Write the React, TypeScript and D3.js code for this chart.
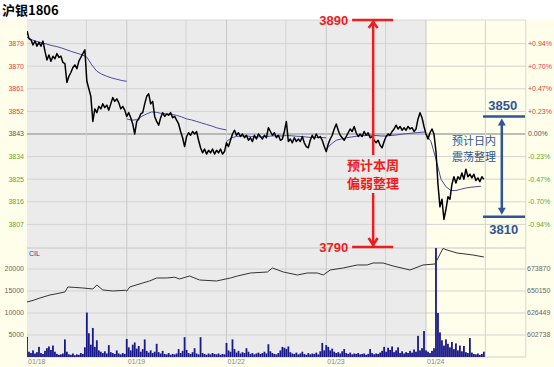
import React from "react";
import * as d3 from "d3";

const TITLE = "沪银1806";
const PREV_CLOSE = 3843;
const dayLabels = ["01/18", "01/19", "01/22", "01/23", "01/24"];
const priceTicks = [3879, 3870, 3861, 3852, 3843, 3834, 3825, 3816, 3807];
const pctLabels = ["+0.94%", "+0.70%", "+0.47%", "+0.23%", "0.00%", "-0.23%", "-0.47%", "-0.70%", "-0.94%"];
const volTicks = [5000, 10000, 15000, 20000];
const oiTicks = [602738, 626449, 650150, 673870];
const lowerLabel = "CIL";

// price, one value every 0.02 day
const price1 = [3884,3881,3880.5,3878.5,3880,3878,3879.5,3878,3880,3876,3872.5,3874.5,3872,3874,3873,3875,3873.5,3874,3871.5,3871,3863.5,3866,3867.5,3869.5,3870.5,3869,3872,3873.5,3875,3876.5,3864,3861,3858,3848,3853,3851.5,3854,3853,3855,3853.5,3854.5,3852.5,3855,3857.5,3856,3857,3855.5,3853,3854,3852.5];
const price2 = [3850,3851.5,3849.5,3847,3843,3848,3849,3851,3851.5,3855,3858,3859,3855,3856,3850,3848,3846.5,3849.5,3851.5,3850,3851,3850.5,3851.5,3849.5,3850,3848.5,3847,3844,3841.5,3838,3842,3843.5,3842.5,3844,3843,3844,3840.5,3837.5,3835.5,3837,3835,3836.5,3835.5,3837,3835,3836.5,3835.5,3837,3835,3836];
const price3 = [3839.5,3838,3840.5,3843,3844.5,3842.5,3843.5,3842,3843,3841.5,3842.5,3840.5,3841.5,3840,3842.5,3841,3843,3842,3841,3842.5,3841.5,3845.5,3844,3842.5,3843.5,3841.5,3842.5,3840.5,3841,3844,3848,3840,3841,3839.5,3841.5,3840,3841,3840,3842,3839.5,3838,3837.5,3840.5,3842.5,3841,3843,3841.5,3842,3840.5,3838];
const price4 = [3836,3839,3841,3842.5,3845,3847,3844.5,3842.5,3841.5,3840.5,3842,3843.5,3845,3844,3846,3843.5,3842,3843,3842,3844,3842.5,3843.5,3841.5,3842,3840.5,3839.5,3840.5,3838.5,3837.5,3840,3842,3843,3842.5,3844,3845,3846.5,3845,3846,3844.5,3845.5,3844.5,3846,3845,3845.5,3844,3845,3849,3851.5,3849.5,3846];
const price5 = [3843,3841,3843.5,3845,3843,3836,3823,3814,3817,3809,3813,3818,3817,3823,3826,3823.5,3826,3825,3827.5,3825,3829,3826,3827,3825.5,3827,3824.5,3825.5,3824,3826,3825];
const prices = [price1, price2, price3, price4, price5];

// average price, one value every 0.05 day
const avg1 = [3881.5,3880.5,3879.8,3879.3,3878.8,3878.2,3877.8,3877.2,3876.5,3875.8,3875.2,3874.6,3873.6,3870.5,3868,3866.8,3866,3865.3,3864.8,3864.3,3864];
const avg2 = [3849,3848.5,3848.7,3850,3851,3851.8,3851.6,3851.2,3851,3850.8,3850.4,3849.8,3849,3848.6,3848,3847.4,3846.8,3846.2,3845.5,3845,3844.6];
const avg3 = [3840,3841.5,3842,3842.2,3842.2,3842,3841.9,3841.9,3842,3842.2,3842.3,3842.2,3842.4,3842.3,3842.1,3842,3841.8,3841.6,3841.6,3841.6,3841.5];
const avg4 = [3837,3839,3840.5,3841,3841.5,3841.8,3842.1,3842.3,3842.4,3842.5,3842.4,3842.2,3842.2,3842.4,3842.6,3842.9,3843.1,3843.3,3843.5,3843.7,3843.8];
const avg5 = [3843,3840,3833,3825,3822,3820.5,3820.5,3821,3821.5,3821.8,3822,3822.2];
const avgs = [avg1, avg2, avg3, avg4, avg5];

// volume, one value every 0.02 day
const vol1 = [4600,1200,900,1500,800,1100,2300,900,700,1400,2000,2400,1600,2600,1200,700,500,600,800,4000,1200,600,500,800,400,600,500,900,700,2200,10100,5400,2800,6600,2300,3800,1500,1200,900,1300,800,2700,1100,900,700,1500,800,600,900,700];
const vol2 = [4100,2200,1500,2800,3300,1900,2500,1200,1800,4000,1400,1000,1500,900,1200,3000,1100,800,1400,700,600,900,500,700,600,800,1800,900,1400,4500,1600,900,700,1100,2000,800,600,4500,900,700,500,800,600,900,700,600,800,500,700,600];
const vol3 = [3200,1500,1200,4000,1800,1000,1400,800,1100,900,2000,1200,700,900,600,800,1000,700,900,1200,800,2900,1300,900,700,600,900,1500,2300,2100,1800,2400,1100,800,700,1000,600,800,1200,700,500,900,600,800,700,1000,600,1300,3200,1500];
const vol4 = [2700,2300,1500,1900,1200,900,1100,800,1300,1800,900,700,1000,600,800,700,900,600,700,800,500,700,1800,900,600,800,700,1000,1400,2300,1200,2100,1600,2400,1100,1500,2200,900,1300,800,1100,900,1400,1000,1700,1200,4800,1500,2000,5900];
const vol5 = [1500,1200,900,1400,2000,30000,10000,5600,3800,2600,4000,3000,2200,3400,1800,3100,1500,2600,1300,2500,1100,900,4300,1000,700,600,800,500,700,1200];
const vols = [vol1, vol2, vol3, vol4, vol5];

// open interest: [day position, value]
const openInterest: [number, number][] = [
  [0, 638306], [0.06, 640000], [0.13, 642617], [0.23, 645850], [0.31, 647500], [0.38, 649083],
  [0.41, 654471], [0.48, 654000], [0.56, 653394], [0.66, 652316], [0.7, 656627], [0.76, 651238],
  [0.86, 650161], [0.99, 651000], [1.0, 650000], [1.03, 654471], [1.16, 658782], [1.23, 661000],
  [1.3, 664171], [1.4, 664171], [1.48, 665000], [1.53, 663093], [1.63, 666326], [1.73, 662016],
  [1.9, 660938], [2.04, 664171], [2.11, 666326], [2.24, 669559], [2.41, 670637], [2.46, 674948],
  [2.57, 670637], [2.71, 667404], [2.81, 669559], [2.91, 669559], [2.97, 667404], [3.04, 672792],
  [3.17, 674948], [3.31, 678181], [3.41, 678181], [3.47, 680336], [3.57, 680336], [3.67, 677103],
  [3.84, 672792], [3.97, 678181], [4.09, 679258], [4.11, 683569], [4.17, 696000], [4.21, 694347],
  [4.31, 691114], [4.47, 688958], [4.58, 686803],
];

const weekHigh = "3890";
const weekLow = "3790";
const weekText = ["预计本周", "偏弱整理"];
const dayHigh = 3850;
const dayLow = 3810;
const dayText = ["预计日内", "震荡整理"];

const RED = "#ee1c1c";
const BLUE = "#2f5597";
const CREAM = "#fefeea";
const GRAY = "#ebebeb";
const GRID = "#d3d3d3";
const TICK_FONT = "'Liberation Sans', Arial, sans-serif";
const CJK = "'Noto Sans CJK SC', sans-serif";

export default function App() {
  const X0 = 27, X1 = 525.75;
  const UT = 20, UB = 248, LB = 357;
  const x = d3.scaleLinear().domain([0, 5]).range([X0, X1]);
  const yP = d3.scaleLinear().domain([PREV_CLOSE - 45.4, PREV_CLOSE + 45.4]).range([UB, UT]);
  const yV = d3.scaleLinear().domain([0, 24773]).range([LB, UB]);
  const yOI = d3.scaleLinear().domain([579028, 696500]).range([LB, UB]);

  const pricePts: [number, number][] = [];
  prices.forEach((arr, d) => arr.forEach((v, i) => pricePts.push([d + i * 0.02, v])));
  const line = d3.line<[number, number]>().x((p) => x(p[0])).y((p) => yP(p[1]));
  const oiLine = d3.line<[number, number]>().x((p) => x(p[0])).y((p) => yOI(p[1]));

  const bars: { t: number; v: number }[] = [];
  vols.forEach((arr, d) => arr.forEach((v, i) => bars.push({ t: d + i * 0.02, v })));

  const redX = x(3.47);
  const blueX = x(4.76);
  const yHi = yP(dayHigh);
  const yLo = yP(dayLow);

  return (
    <svg width={554} height={367} style={{ position: "absolute", left: 0, top: 0 }}>
      <defs>
        <clipPath id="lowclip">
          <rect x={X0} y={UB} width={X1 - X0} height={LB - UB} />
        </clipPath>
        <clipPath id="upclip">
          <rect x={X0} y={UT} width={X1 - X0} height={UB - UT} />
        </clipPath>
      </defs>
      <rect x={0} y={0} width={554} height={367} fill="#ffffff" />
      <rect x={0} y={UT} width={554} height={367 - UT} fill={CREAM} />
      <rect x={X0} y={UT} width={x(4) - X0} height={LB - UT} fill={GRAY} />

      {/* horizontal grid */}
      {priceTicks.map((t) => (
        <line key={"hg" + t} x1={X0} x2={X1} y1={yP(t)} y2={yP(t)}
          stroke={t === PREV_CLOSE ? "#a9a9a9" : GRID} strokeWidth={t === PREV_CLOSE ? 1.6 : 1} />
      ))}
      {volTicks.map((t) => (
        <line key={"vg" + t} x1={X0} x2={X1} y1={yV(t)} y2={yV(t)} stroke={GRID} />
      ))}
      <line x1={X0} x2={X1} y1={UB} y2={UB} stroke="#c6c6c6" />
      <line x1={X0} x2={X1} y1={LB} y2={LB} stroke="#d0d0d0" />
      <line x1={X0} x2={X1} y1={UT} y2={UT} stroke="#d8d8d8" />
      {/* vertical grid */}
      {[0, 1, 2, 3, 4].map((d) => (
        <g key={"vd" + d}>
          {d > 0 && <line x1={x(d)} x2={x(d)} y1={UT} y2={LB} stroke="#c8c8c8" />}
          <line x1={x(d + 0.595)} x2={x(d + 0.595)} y1={UT} y2={LB} stroke={GRID} />
        </g>
      ))}
      <line x1={X1} x2={X1} y1={UT} y2={LB} stroke="#d8d8d8" />

      {/* average price lines + price */}
      <g clipPath="url(#upclip)">
        {avgs.map((arr, d) => (
          <path key={"avg" + d}
            d={line(arr.map((v, i) => [d + i * 0.05, v] as [number, number])) || ""}
            fill="none" stroke="#4a4a9c" strokeWidth={1} />
        ))}
        <path d={line(pricePts) || ""} fill="none" stroke="#000" strokeWidth={1.5} strokeLinejoin="round" />
      </g>

      {/* volume */}
      <g clipPath="url(#lowclip)">
        {bars.map((b, i) => (
          <rect key={"b" + i} x={x(b.t) - 0.9} width={1.8} y={yV(b.v)} height={LB - yV(b.v)} fill="#18188a" />
        ))}
        <path d={oiLine(openInterest) || ""} fill="none" stroke="#333" strokeWidth={1} />
      </g>
      <text x={X0 + 2} y={UB + 8} fontSize={7} fontFamily={TICK_FONT} fill="#3a3a7a">{lowerLabel}</text>

      {/* axis labels upper */}
      {priceTicks.map((t, i) => {
        const col = t > PREV_CLOSE ? "#e8383d" : t < PREV_CLOSE ? "#58a83a" : "#555";
        return (
          <g key={"pl" + t}>
            <text x={24} y={yP(t)} dy="0.35em" textAnchor="end" fontSize={7} fontFamily={TICK_FONT} fill={col}>{t}</text>
            <text x={528} y={yP(t)} dy="0.35em" textAnchor="start" fontSize={7} fontFamily={TICK_FONT} fill={col}>{pctLabels[i]}</text>
          </g>
        );
      })}
      {volTicks.map((t, i) => (
        <g key={"vl" + t}>
          <text x={24} y={yV(t)} dy="0.35em" textAnchor="end" fontSize={7} fontFamily={TICK_FONT} fill="#666">{t}</text>
          <text x={527} y={yV(t)} dy="0.35em" textAnchor="start" fontSize={7} fontFamily={TICK_FONT} fill="#666">{oiTicks[i]}</text>
        </g>
      ))}
      {dayLabels.map((l, d) => (
        <text key={l} x={x(d) + 1} y={364} textAnchor="start" fontSize={7} fontFamily={TICK_FONT} fill="#888">{l}</text>
      ))}

      {/* title */}
      <text x={2} y={15} fontSize={13} fontWeight="bold" fontFamily={CJK} fill="#000">{TITLE}</text>

      {/* weekly annotation */}
      <g stroke={RED} strokeWidth={2.5} fill="none">
        <line x1={redX - 21} x2={redX + 20} y1={UT} y2={UT} />
        <line x1={redX - 21} x2={redX + 20} y1={UB - 1} y2={UB - 1} />
        <line x1={redX} x2={redX} y1={UT + 1} y2={155} />
        <line x1={redX} x2={redX} y1={193} y2={UB - 2} />
        <polyline points={`${redX - 4.5},${UT + 8} ${redX},${UT + 2} ${redX + 4.5},${UT + 8}`} />
        <polyline points={`${redX - 4.5},${UB - 10} ${redX},${UB - 3} ${redX + 4.5},${UB - 10}`} />
      </g>
      <text x={redX - 25} y={UT} dy="0.36em" textAnchor="end" fontSize={13} fontWeight="bold" fontFamily={TICK_FONT} fill={RED}>{weekHigh}</text>
      <text x={redX - 25} y={UB - 1} dy="0.36em" textAnchor="end" fontSize={13} fontWeight="bold" fontFamily={TICK_FONT} fill={RED}>{weekLow}</text>
      {weekText.map((t, i) => (
        <text key={t} x={redX} y={165 + i * 18} dy="0.35em" textAnchor="middle" fontSize={13} fontWeight="bold" fontFamily={CJK} fill={RED}>{t}</text>
      ))}

      {/* daily annotation */}
      <g stroke={BLUE} strokeWidth={2.5} fill="none">
        <line x1={483} x2={525} y1={yHi} y2={yHi} />
        <line x1={483} x2={525} y1={yLo} y2={yLo} />
        <line x1={blueX} x2={blueX} y1={yHi + 6} y2={yLo - 6} />
      </g>
      <polygon points={`${blueX - 4},${yHi + 9} ${blueX},${yHi + 2} ${blueX + 4},${yHi + 9}`} fill={BLUE} />
      <polygon points={`${blueX - 4},${yLo - 9} ${blueX},${yLo - 2} ${blueX + 4},${yLo - 9}`} fill={BLUE} />
      <text x={blueX + 1} y={yHi - 11} dy="0.36em" textAnchor="middle" fontSize={13} fontWeight="bold" fontFamily={TICK_FONT} fill={BLUE}>{dayHigh}</text>
      <text x={blueX + 2} y={yLo + 12} dy="0.36em" textAnchor="middle" fontSize={13} fontWeight="bold" fontFamily={TICK_FONT} fill={BLUE}>{dayLow}</text>
      {dayText.map((t, i) => (
        <text key={t} x={474} y={141 + i * 16} dy="0.35em" textAnchor="middle" fontSize={11} fontFamily={CJK} fill={BLUE}>{t}</text>
      ))}
    </svg>
  );
}
